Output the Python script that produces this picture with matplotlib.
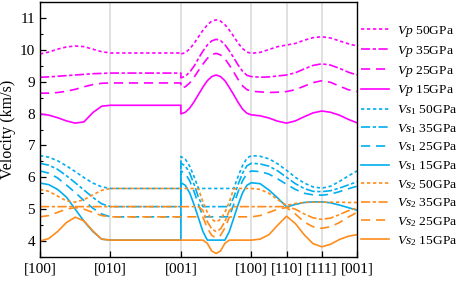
import matplotlib
matplotlib.use("Agg")
import matplotlib.pyplot as plt
from matplotlib.ticker import MultipleLocator

plt.rcParams['font.family'] = ['Liberation Serif', 'DejaVu Serif']
plt.rcParams['mathtext.fontset'] = 'custom'
plt.rcParams['mathtext.rm'] = 'Liberation Serif'
plt.rcParams['mathtext.it'] = 'Liberation Serif:italic'

# path positions: [100]->[010] , [010]->[001] (flat), [001]->[100], [100]->[110]->[111]->[001]
seg1 = [0, 0.125, 0.25, 0.375, 0.5, 0.625, 0.75, 0.875, 1.0]
seg2 = [2.0]
seg3 = [2.0, 2.0625, 2.125, 2.1875, 2.25, 2.3125, 2.375, 2.4375, 2.5,
        2.5625, 2.625, 2.6875, 2.75, 2.8125, 2.875, 2.9375, 3.0]
seg4 = [3.125, 3.25, 3.375, 3.5, 3.625, 3.75, 3.875, 4.0, 4.125, 4.25, 4.375, 4.5]
path = seg1 + seg2 + seg3 + seg4

tick_pos = [0, 1, 2, 3, 3.5, 4, 4.5]
tick_labels = ['[100]', '[010]', '[001]', '[100]', '[110]', '[111]', '[001]']

vp_50 = ([9.87, 9.93, 10.02, 10.09, 10.12, 10.1, 10.02, 9.94, 9.9] + [9.9] +
         [9.87, 9.91, 10.03, 10.2, 10.41, 10.61, 10.78, 10.9, 10.94,
          10.9, 10.79, 10.62, 10.42, 10.21, 10.04, 9.93, 9.89] +
         [9.92, 10.01, 10.1, 10.15, 10.2, 10.3, 10.38, 10.41, 10.37, 10.28, 10.19, 10.12])
vp_35 = ([9.14, 9.15, 9.17, 9.19, 9.21, 9.23, 9.25, 9.26, 9.27] + [9.27] +
         [9.12, 9.17, 9.3, 9.49, 9.73, 9.96, 10.15, 10.28, 10.33,
          10.29, 10.16, 9.97, 9.75, 9.52, 9.33, 9.2, 9.16] +
         [9.14, 9.15, 9.18, 9.21, 9.28, 9.4, 9.51, 9.56, 9.52, 9.42, 9.3, 9.21])
vp_25 = ([8.64, 8.64, 8.66, 8.7, 8.76, 8.84, 8.91, 8.95, 8.96] + [8.96] +
         [8.8, 8.84, 8.96, 9.14, 9.35, 9.55, 9.73, 9.85, 9.89,
          9.84, 9.72, 9.52, 9.3, 9.07, 8.87, 8.75, 8.7] +
         [8.68, 8.66, 8.67, 8.69, 8.75, 8.86, 8.97, 9.03, 8.98, 8.86, 8.75, 8.69])
vp_15 = ([7.99, 7.95, 7.87, 7.77, 7.7, 7.74, 8.03, 8.23, 8.26] + [8.26] +
         [7.99, 8.04, 8.17, 8.37, 8.6, 8.83, 9.03, 9.16, 9.21,
          9.16, 9.03, 8.82, 8.59, 8.35, 8.14, 8.01, 7.96] +
         [7.93, 7.86, 7.76, 7.7, 7.77, 7.9, 8.02, 8.08, 8.04, 7.95, 7.82, 7.71])

vs1_50 = ([6.68, 6.63, 6.52, 6.36, 6.18, 5.99, 5.82, 5.7, 5.65] + [5.65] +
          [6.65, 6.57, 6.35, 6.02, 5.65, 5.65, 5.65, 5.65, 5.65,
           5.65, 5.65, 5.65, 5.65, 6.03, 6.37, 6.6, 6.68] +
          [6.66, 6.58, 6.42, 6.22, 6.0, 5.82, 5.7, 5.66, 5.72, 5.87, 6.04, 6.2])
vs1_35 = ([6.44, 6.38, 6.25, 6.05, 5.83, 5.6, 5.37, 5.17, 5.08] + [5.08] +
          [6.44, 6.36, 6.13, 5.78, 5.37, 5.08, 5.08, 5.08, 5.08,
           5.08, 5.08, 5.08, 5.37, 5.78, 6.13, 6.36, 6.44] +
          [6.42, 6.35, 6.2, 6.0, 5.8, 5.65, 5.56, 5.55, 5.58, 5.66, 5.76, 5.86])
vs1_25 = ([6.2, 6.13, 5.98, 5.76, 5.52, 5.27, 5.03, 4.85, 4.76] + [4.76] +
          [6.2, 6.12, 5.89, 5.55, 5.15, 4.76, 4.76, 4.76, 4.76,
           4.76, 4.76, 4.76, 5.15, 5.55, 5.89, 6.12, 6.2] +
          [6.18, 6.1, 5.95, 5.78, 5.62, 5.5, 5.45, 5.44, 5.47, 5.55, 5.64, 5.72])
vs1_15 = ([5.82, 5.77, 5.62, 5.38, 5.0, 4.62, 4.3, 4.06, 4.03] + [4.03] +
          [5.83, 5.75, 5.51, 5.14, 4.72, 4.3, 4.03, 4.03, 4.03,
           4.03, 4.03, 4.3, 4.72, 5.14, 5.51, 5.75, 5.83] +
          [5.8, 5.6, 5.35, 5.07, 5.15, 5.21, 5.23, 5.23, 5.2, 5.13, 5.05, 4.97])

vs2_50 = ([5.62, 5.56, 5.41, 5.26, 5.22, 5.3, 5.45, 5.59, 5.65] + [5.65] +
          [5.65, 5.65, 5.65, 5.65, 5.63, 5.23, 4.9, 4.68, 4.6,
           4.68, 4.9, 5.23, 5.64, 5.65, 5.65, 5.65, 5.65] +
          [5.62, 5.5, 5.3, 5.12, 5.18, 5.21, 5.22, 5.22, 5.22, 5.22, 5.21, 5.21])
vs2_35 = ([5.08, 5.08, 5.08, 5.08, 5.08, 5.08, 5.08, 5.08, 5.08] + [5.08] +
          [5.08, 5.08, 5.08, 5.08, 5.08, 4.96, 4.61, 4.38, 4.3,
           4.38, 4.61, 4.96, 5.08, 5.08, 5.08, 5.08, 5.08] +
          [5.08, 5.08, 5.08, 5.08, 5.0, 4.85, 4.73, 4.68, 4.72, 4.83, 4.95, 5.04])
vs2_25 = ([4.76, 4.8, 4.9, 5.0, 5.05, 5.0, 4.9, 4.8, 4.76] + [4.76] +
          [4.76, 4.76, 4.76, 4.76, 4.76, 4.75, 4.41, 4.18, 4.1,
           4.18, 4.41, 4.75, 4.76, 4.76, 4.76, 4.76, 4.76] +
          [4.8, 4.9, 5.0, 5.05, 4.85, 4.6, 4.45, 4.4, 4.45, 4.58, 4.75, 4.9])
vs2_15 = ([4.0, 4.08, 4.3, 4.58, 4.75, 4.63, 4.32, 4.06, 4.03] + [4.03] +
          [4.03, 4.03, 4.03, 4.03, 4.03, 4.03, 3.93, 3.69, 3.61,
           3.69, 3.93, 4.03, 4.03, 4.03, 4.03, 4.03, 4.03] +
          [4.06, 4.2, 4.5, 4.78, 4.55, 4.2, 3.92, 3.82, 3.9, 4.05, 4.15, 4.2])

magenta = '#FF00FF'
blue = '#00AEEF'
orange = '#FF8C1A'

dot = (0, (2, 1.6))
dashdot = (0, (5.5, 1.5, 2, 1.5))
dash = (0, (5.5, 3.5))
solid = '-'

series = [
    (vp_50, magenta, dot, r'$\mathit{Vp}$ 50GPa'),
    (vp_35, magenta, dashdot, r'$\mathit{Vp}$ 35GPa'),
    (vp_25, magenta, dash, r'$\mathit{Vp}$ 25GPa'),
    (vp_15, magenta, solid, r'$\mathit{Vp}$ 15GPa'),
    (vs1_50, blue, dot, r'$\mathit{Vs}_{\mathit{1}}$ 50GPa'),
    (vs1_35, blue, dashdot, r'$\mathit{Vs}_{\mathit{1}}$ 35GPa'),
    (vs1_25, blue, dash, r'$\mathit{Vs}_{\mathit{1}}$ 25GPa'),
    (vs1_15, blue, solid, r'$\mathit{Vs}_{\mathit{1}}$ 15GPa'),
    (vs2_50, orange, dot, r'$\mathit{Vs}_{\mathit{2}}$ 50GPa'),
    (vs2_35, orange, dashdot, r'$\mathit{Vs}_{\mathit{2}}$ 35GPa'),
    (vs2_25, orange, dash, r'$\mathit{Vs}_{\mathit{2}}$ 25GPa'),
    (vs2_15, orange, solid, r'$\mathit{Vs}_{\mathit{2}}$ 15GPa'),
]

fig = plt.figure(figsize=(4.57, 2.81), dpi=100)
ax = fig.add_axes([40 / 457, 24 / 281, 317 / 457, 255 / 281])

for x in tick_pos[1:-1]:
    ax.axvline(x, color='#D9D9D9', lw=1.1, zorder=0)

for vals, col, ls, lab in series:
    ax.plot(path, vals, color=col, ls=ls, lw=1.2, label=lab)

ax.set_xlim(0, 4.5)
ax.set_ylim(3.5, 11.5)
ax.set_xticks(tick_pos)
ax.set_xticklabels(tick_labels, fontsize=11)
ax.yaxis.set_major_locator(MultipleLocator(1))
ax.yaxis.set_minor_locator(MultipleLocator(0.5))
ax.set_yticks([4, 5, 6, 7, 8, 9, 10, 11])
ax.tick_params(axis='y', labelsize=11, direction='in', length=4, width=0.9)
ax.tick_params(axis='y', which='minor', direction='in', length=2, width=0.8)
ax.tick_params(axis='x', direction='in', length=4, width=0.9, pad=4)
ax.set_ylabel('Velocity (km/s)', fontsize=11.5, labelpad=3)
for sp in ax.spines.values():
    sp.set_linewidth(1.0)

ax.legend(loc='upper left', bbox_to_anchor=(1.0, 0.93), frameon=False,
          fontsize=9.7, handlelength=2.1, handletextpad=0.6,
          labelspacing=0.36, borderaxespad=0.1, borderpad=0.2)

fig.savefig('out.png', dpi=100)
